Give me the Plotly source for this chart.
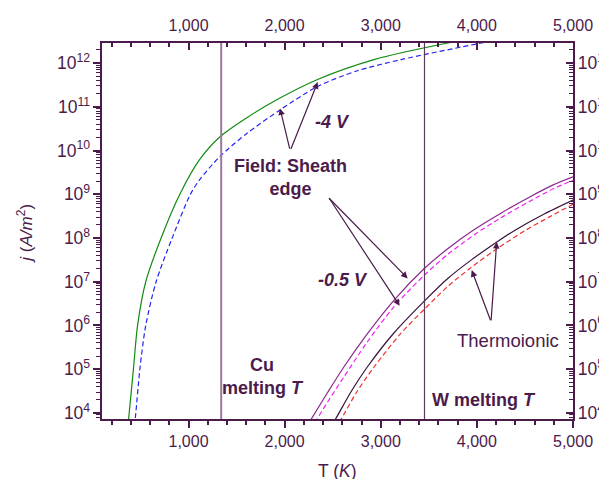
import plotly.graph_objects as go

# ---------------- data ----------------
T_FIELD_4V = [370, 383, 427, 470, 555, 715, 910, 1115, 1325, 1600, 1918, 2337, 2930, 3698, 3800]
J_FIELD_4V = [5.0e3, 1.0e4, 1.0e5, 1.0e6, 1.0e7, 1.0e8, 1.0e9, 6.17e9, 2.04e10, 5.5e10, 1.45e11, 4.17e11, 1.2e12, 2.88e12, 3.16e12]

T_SHEATH_4V = [438, 452, 494, 555, 663, 830, 1020, 1115, 1325, 1600, 1953, 2337, 2750, 3209, 4047, 4200]
J_SHEATH_4V = [5.0e3, 1.0e4, 1.0e5, 1.0e6, 1.0e7, 1.0e8, 1.0e9, 2.14e9, 7.24e9, 2.4e10, 8.51e10, 2.88e11, 6.61e11, 1.2e12, 2.88e12, 3.31e12]

T_FIELD_05V = [2255, 2277, 2450, 2616, 2850, 3139, 3453, 3700, 3977, 4250, 4550, 4800, 5000]
J_FIELD_05V = [6.0e3, 7.2e3, 3.0e4, 1.12e5, 6.0e5, 3.8e6, 2.0e7, 5.75e7, 1.58e8, 3.7e8, 8.7e8, 1.66e9, 2.5e9]

T_SHEATH_05V = [2315, 2337, 2450, 2616, 2850, 3139, 3453, 3700, 3977, 4250, 4550, 4800, 5000]
J_SHEATH_05V = [6.0e3, 7.2e3, 1.82e4, 6.6e4, 3.9e5, 2.7e6, 1.41e7, 4.27e7, 1.2e8, 2.9e8, 6.9e8, 1.35e9, 2.1e9]

T_THERMO_A = [2509, 2529, 2700, 2860, 3139, 3453, 3700, 3943, 4200, 4397, 4700, 5000]
J_THERMO_A = [6.2e3, 7.2e3, 3.3e4, 1.12e5, 6.8e5, 3.6e6, 1.2e7, 3.16e7, 7.9e7, 1.51e8, 3.55e8, 7.4e8]

T_THERMO_B = [2568, 2588, 2750, 2930, 3209, 3453, 3700, 3943, 4200, 4502, 4750, 5000]
J_THERMO_B = [6.2e3, 7.2e3, 3.0e4, 1.12e5, 6.6e5, 2.34e6, 7.9e6, 2.14e7, 5.5e7, 1.48e8, 3.0e8, 5.9e8]

CU_MELT_T = 1340
W_MELT_T = 3455

X_TICKS = [1000, 2000, 3000, 4000, 5000]
X_TICK_LABELS = ["1,000", "2,000", "3,000", "4,000", "5,000"]
X_RANGE = [100, 5000]
Y_RANGE_LOG = [3.86, 12.46]

# ---------------- style ----------------
AX = "#4B1B4B"
FONT = "Liberation Sans, Arial, sans-serif"

fig = go.Figure()

def curve(x, y, color, dash, width=1.2):
    fig.add_trace(go.Scatter(x=x, y=y, mode="lines",
                             line=dict(color=color, dash=dash, width=width, shape="spline", smoothing=0.8),
                             showlegend=False, hoverinfo="skip"))

DASH = "5px,3px"
curve(T_FIELD_4V, J_FIELD_4V, "#138A13", "solid")
curve(T_SHEATH_4V, J_SHEATH_4V, "#2424F0", DASH)
curve(T_FIELD_05V, J_FIELD_05V, "#8A2A8A", "solid")
curve(T_SHEATH_05V, J_SHEATH_05V, "#F020F0", DASH)
curve(T_THERMO_A, J_THERMO_A, "#3A123A", "solid")
curve(T_THERMO_B, J_THERMO_B, "#F03030", DASH)

# invisible trace for the mirrored axes
fig.add_trace(go.Scatter(x=[X_RANGE[0]], y=[1e5], xaxis="x2", yaxis="y2", mode="markers",
                         marker=dict(opacity=0), showlegend=False, hoverinfo="skip"))

fig.add_vline(x=CU_MELT_T, line=dict(color="#9A7A9C", width=2))
fig.add_vline(x=W_MELT_T, line=dict(color="#5A3A5A", width=1.2))

common_x = dict(range=X_RANGE, tickvals=X_TICKS, ticktext=X_TICK_LABELS, showgrid=False, zeroline=False,
                showline=True, linecolor=AX, linewidth=2, tickcolor=AX, tickwidth=1.5, ticklen=7,
                tickfont=dict(family=FONT, size=16, color=AX),
                minor=dict(dtick=200, tick0=0, ticklen=4, tickcolor=AX, tickwidth=1.5, showgrid=False))
common_y = dict(type="log", range=Y_RANGE_LOG, dtick=1, exponentformat="power", showexponent="all",
                showgrid=False, zeroline=False, showline=True, linecolor=AX, linewidth=2,
                tickcolor=AX, tickwidth=1.5, ticklen=7,
                tickfont=dict(family=FONT, size=14, color=AX),
                minor=dict(dtick="D1", ticklen=4, tickcolor=AX, tickwidth=1, showgrid=False))

# the page body adds an 8px offset, so the figure is 8px smaller with 8px less left/top margin
fig.update_layout(
    width=599, height=471,
    margin=dict(l=94, r=34, t=35, b=60),
    paper_bgcolor="white", plot_bgcolor="white",
    font=dict(family=FONT, color=AX),
    xaxis=dict(**common_x, ticks="outside", minor_ticks="outside"),
    xaxis2=dict(**common_x, ticks="inside", minor_ticks="inside", overlaying="x", side="top", anchor="y",
                ticklabelstandoff=4),
    yaxis=dict(**common_y, ticks="outside", minor_ticks="outside"),
    yaxis2=dict(**common_y, ticks="inside", minor_ticks="inside", overlaying="y", side="right", anchor="x"),
)
for ax in ("xaxis", "xaxis2", "yaxis", "yaxis2"):
    fig.layout[ax].automargin = False

def label(text, x, y, size=18, **kw):
    fig.add_annotation(text=text, x=x, y=y, xref="paper", yref="paper", showarrow=False,
                       xanchor="center", yanchor="middle",
                       font=dict(family=FONT, size=size, color=AX), **kw)

label("<b><i>-4 V</i></b>", 0.489, 0.791)
label("<b>Field: Sheath<br>edge</b>", 0.401, 0.641)
label("<b><i>-0.5 V</i></b>", 0.511, 0.370)
label("<b>Cu<br>melting <i>T</i></b>", 0.341, 0.113)
label("<b>W melting <i>T</i></b>", 0.812, 0.0505)
label("Thermoionic", 0.862, 0.209, size=18.5)
label("T (<i>K</i>)", 0.5004, -0.138, size=17.5)
label("<i>j</i> (<i>A/m</i><sup>2</sup>)", -0.164, 0.495, size=17, textangle=-90)

def arrow(x, y, ax, ay):
    fig.add_annotation(text="", x=x, y=y, xref="paper", yref="paper", ax=ax, ay=ay,
                       showarrow=True, arrowhead=2, arrowsize=1.1, arrowwidth=1.2, arrowcolor=AX, standoff=0)

arrow(0.378, 0.826, 10, 41.7)
arrow(0.458, 0.896, -27.4, 68.3)
arrow(0.649, 0.374, -80, -81.6)
arrow(0.632, 0.301, -71.6, -109.3)
arrow(0.785, 0.396, 19.3, 51.7)
arrow(0.838, 0.471, -5.7, 80)

fig.write_html("out.html")
